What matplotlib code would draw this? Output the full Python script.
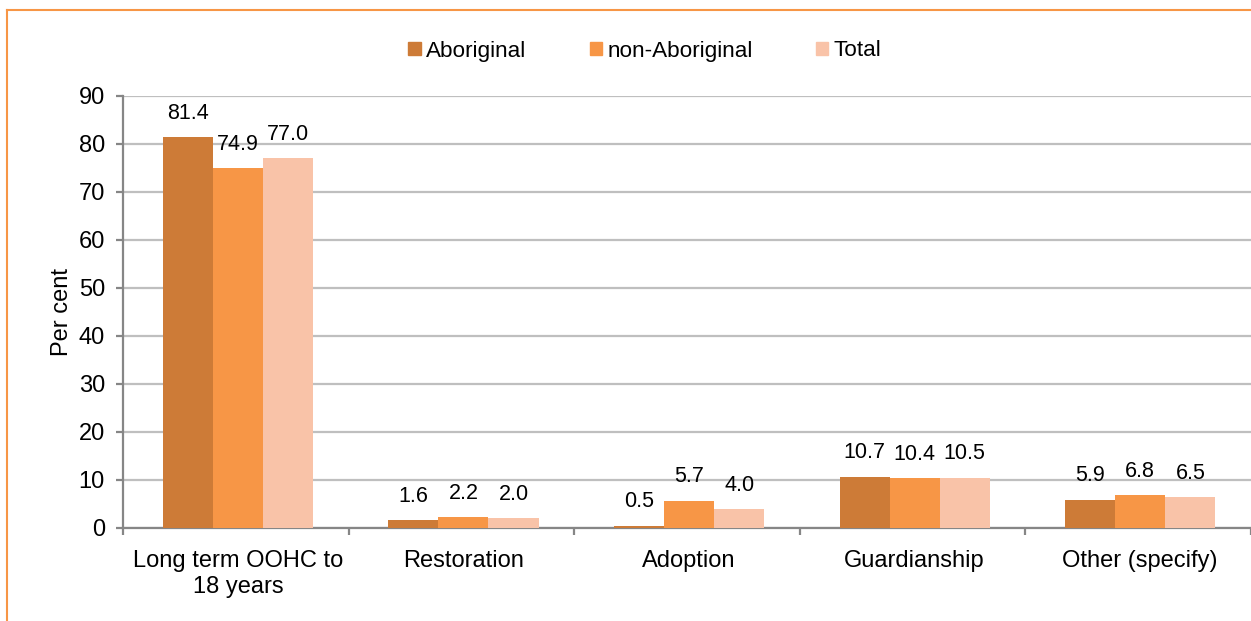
import matplotlib
matplotlib.use("Agg")
import matplotlib.pyplot as plt
from matplotlib.lines import Line2D
import numpy as np

categories = ["Long term OOHC to\n18 years", "Restoration", "Adoption", "Guardianship", "Other (specify)"]
series_names = ["Aboriginal", "non-Aboriginal", "Total"]
aboriginal = [81.4, 1.6, 0.5, 10.7, 5.9]
non_aboriginal = [74.9, 2.2, 5.7, 10.4, 6.8]
total = [77.0, 2.0, 4.0, 10.5, 6.5]
colors = ["#CD7B37", "#F79646", "#F9C3A8"]

plt.rcParams['font.family'] = ['Liberation Sans', 'DejaVu Sans']
FS_LAB = 15.5
FS_AX = 17.0
FS_LEG = 16.2

fig = plt.figure(figsize=(12.51, 6.21), dpi=100)
ax = fig.add_axes([123/1251, 1-528/621, 1-123/1251, (528-96)/621])

x = np.arange(len(categories))
w = 0.222
shift = 0.009
for i, (vals, name, c) in enumerate(zip([aboriginal, non_aboriginal, total], series_names, colors)):
    pos = x + (i-1)*w + shift
    ax.bar(pos, vals, width=w, color=c, label=name, zorder=3)
    for p, v in zip(pos, vals):
        ax.annotate(f"{v:.1f}", (p, v), xytext=(0, 9.5), textcoords="offset points",
                    ha="center", va="bottom", fontsize=FS_LAB, color="black")

ax.set_xlim(-0.5, 4.5)
ax.set_ylim(0, 90)
ax.set_yticks(np.arange(0, 91, 10))
ax.yaxis.grid(True, color="#BFBFBF", linewidth=1.6, zorder=0)
ax.set_axisbelow(True)
for s in ["top", "right"]:
    ax.spines[s].set_visible(False)
for s in ["left", "bottom"]:
    ax.spines[s].set_color("#868686")
    ax.spines[s].set_linewidth(1.6)
ax.set_xticks(x + shift)
ax.set_xticklabels(categories, fontsize=FS_AX, linespacing=1.22)
ax.tick_params(axis='x', which='major', length=0, pad=16)
ax.set_xticks(np.arange(-0.5, 4.6, 1), minor=True)
ax.tick_params(axis='x', which='minor', length=5, width=1.6, color="#868686", direction='out')
ax.tick_params(axis='y', length=5, width=1.6, color="#868686", labelsize=FS_AX, pad=8)
ax.set_ylabel("Per cent", fontsize=FS_AX, labelpad=4)

handles = [plt.Rectangle((0, 0), 1, 1, color=c) for c in colors]
fig.legend(handles, series_names, loc="center", bbox_to_anchor=(645/1251, 1-51/621),
           ncol=3, frameon=False, fontsize=FS_LEG, handlelength=0.55, handleheight=0.55,
           handletextpad=0.25, columnspacing=2.8)

# orange frame (top and left edges visible)
fig.add_artist(Line2D([7/1251, 1], [1-10/621, 1-10/621], color="#F79646", lw=1.5, transform=fig.transFigure))
fig.add_artist(Line2D([7/1251, 7/1251], [0, 1-10/621], color="#F79646", lw=1.5, transform=fig.transFigure))

fig.savefig("out.png", dpi=100)
